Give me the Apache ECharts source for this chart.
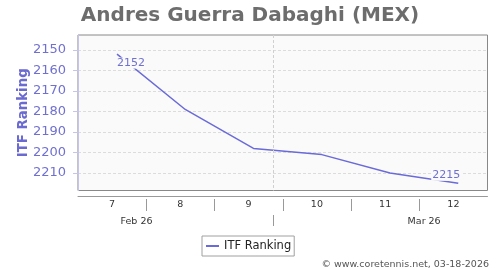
<!DOCTYPE html>
<html>
<head>
<meta charset="utf-8">
<script src="https://cdn.jsdelivr.net/npm/echarts@6/dist/echarts.min.js"></script>
<style>html,body{margin:0;padding:0;background:#fff}#c{width:500px;height:270px}</style>
</head>
<body>
<div id="c"></div>
<script>
// ---- data ----
const titleText = 'Andres Guerra Dabaghi (MEX)';
const seriesName = 'ITF Ranking';
const rankDates = ['2026-02-13', '2026-02-20', '2026-02-27', '2026-03-06', '2026-03-13', '2026-03-20'];
const rankValues = [2152, 2179, 2198, 2201, 2210, 2215];
const yTicks = [2150, 2160, 2170, 2180, 2190, 2200, 2210];
const weekLabels = ['7', '8', '9', '10', '11', '12'];
const weekStarts = ['2026-02-09', '2026-02-16', '2026-02-23', '2026-03-02', '2026-03-09', '2026-03-16', '2026-03-23'];
const monthLabels = ['Feb 26', 'Mar 26'];
const monthStarts = ['2026-02-01', '2026-03-01', '2026-04-01'];
const creditText = '\u00A9 www.coretennis.net, 03-18-2026';

// day numbers relative to the first week start
const DAY = 86400000;
function ts(s) { const p = s.split('-').map(Number); return Date.UTC(p[0], p[1] - 1, p[2]); }
const origin = ts(weekStarts[0]);
function dayNum(s) { return (ts(s) - origin) / DAY; }
const weekD = weekStarts.map(dayNum);
const xMin = weekD[0], xMax = weekD[weekD.length - 1];
const weekMid = weekLabels.map((_, i) => (weekD[i] + weekD[i + 1]) / 2);
const weekBounds = weekD.slice(1, -1);
const monthD = monthStarts.map(dayNum);
const monthMid = monthLabels.map((_, i) => (monthD[i] + monthD[i + 1]) / 2);
const monthBound = monthD.filter(t => t > xMin && t < xMax);

const FONT = 'DejaVu Sans';
const lineColor = '#6a6ad8';
const labelColor = '#7070d0';

const data = rankDates.map((d, i) => {
  const item = { value: [dayNum(d), rankValues[i]] };
  if (i === 0) item.label = { show: true, position: 'inside', offset: [14, 9] };
  if (i === rankDates.length - 1) item.label = { show: true, position: 'inside', offset: [-12, -8] };
  return item;
});

function lookup(arr, labels) {
  return v => { const i = arr.findIndex(m => Math.abs(m - v) < 0.01); return i >= 0 ? labels[i] : ''; };
}

const chart = echarts.init(document.getElementById('c'), null, { renderer: 'canvas' });
chart.setOption({
  animation: false,
  textStyle: { fontFamily: FONT },
  title: {
    text: titleText, left: 'center', top: 1,
    textStyle: { fontFamily: FONT, fontSize: 20, fontWeight: 'bold', color: '#6d6d6d' }
  },
  legend: {
    data: [{ name: seriesName, icon: 'rect' }],
    left: 202, top: 236,
    padding: [4, 3, 4, 4],
    itemWidth: 13, itemHeight: 2, itemGap: 5,
    borderColor: '#a0a0a0', borderWidth: 1, borderRadius: 0,
    textStyle: { fontFamily: FONT, fontSize: 11.5, color: '#222' }
  },
  graphic: [{
    type: 'text', right: 11, top: 259.5,
    style: { text: creditText, font: '9.5px "DejaVu Sans"', fill: '#555' }
  }],
  grid: {
    left: 78, right: 12.5, top: 35, bottom: 79.5,
    show: true, backgroundColor: '#fafafa', borderColor: '#888', borderWidth: 1
  },
  xAxis: [
    {
      type: 'value', min: xMin, max: xMax, position: 'bottom', offset: 5.5,
      axisLine: { show: true, onZero: false, lineStyle: { color: '#999', width: 1 } },
      axisTick: { show: false }, axisLabel: { show: false }, splitLine: { show: false }
    },
    {
      type: 'value', min: xMin, max: xMax, position: 'bottom', offset: 8.5,
      axisLine: { show: false, onZero: false },
      axisTick: { show: true, customValues: weekBounds, length: 12, lineStyle: { color: '#999' } },
      axisLabel: {
        show: true, customValues: weekMid, margin: 0.5, fontSize: 9.5, color: '#333', fontFamily: FONT,
        formatter: lookup(weekMid, weekLabels)
      },
      splitLine: { show: false }
    },
    {
      type: 'value', min: xMin, max: xMax, position: 'bottom', offset: 24.5,
      axisLine: { show: false, onZero: false },
      axisTick: { show: true, customValues: monthBound, length: 11, lineStyle: { color: '#999' } },
      axisLabel: {
        show: true, customValues: monthMid, margin: 1.5, fontSize: 9.5, color: '#333', fontFamily: FONT,
        formatter: lookup(monthMid, monthLabels)
      },
      splitLine: { show: false }
    }
  ],
  yAxis: {
    type: 'value', inverse: true, min: 2142.7, max: 2218.5, position: 'left', offset: 5,
    name: seriesName, nameLocation: 'middle', nameGap: 43, nameRotate: 90, nameMoveOverlap: false,
    nameTextStyle: { fontFamily: FONT, fontSize: 13.3, fontWeight: 'bold', color: '#6a6ad0' },
    axisLine: { show: true, lineStyle: { color: '#c4c4ee', width: 1 } },
    axisTick: { show: true, customValues: yTicks, length: 5, lineStyle: { color: '#c4c4ee' } },
    axisLabel: {
      show: true, customValues: yTicks, margin: 7, fontSize: 13, color: labelColor, fontFamily: FONT,
      formatter: v => String(v)
    },
    splitLine: { show: true, lineStyle: { color: '#dcdcdc', type: [3, 2], width: 1 } }
  },
  series: [{
    name: seriesName, type: 'line', xAxisIndex: 0,
    data: data,
    color: lineColor,
    symbol: 'circle', symbolSize: 0.01, showSymbol: true,
    lineStyle: { color: lineColor, width: 1.5 },
    label: { show: false, color: labelColor, fontSize: 11, fontFamily: FONT, backgroundColor: '#fafafa', padding: [0, 1] },
    emphasis: { disabled: true },
    markLine: {
      silent: true, symbol: 'none', label: { show: false },
      lineStyle: { color: '#d0d0d0', type: [3, 2], width: 1 },
      data: monthBound.map(t => ({ xAxis: t }))
    },
    z: 3
  }]
});
</script>
</body>
</html>
